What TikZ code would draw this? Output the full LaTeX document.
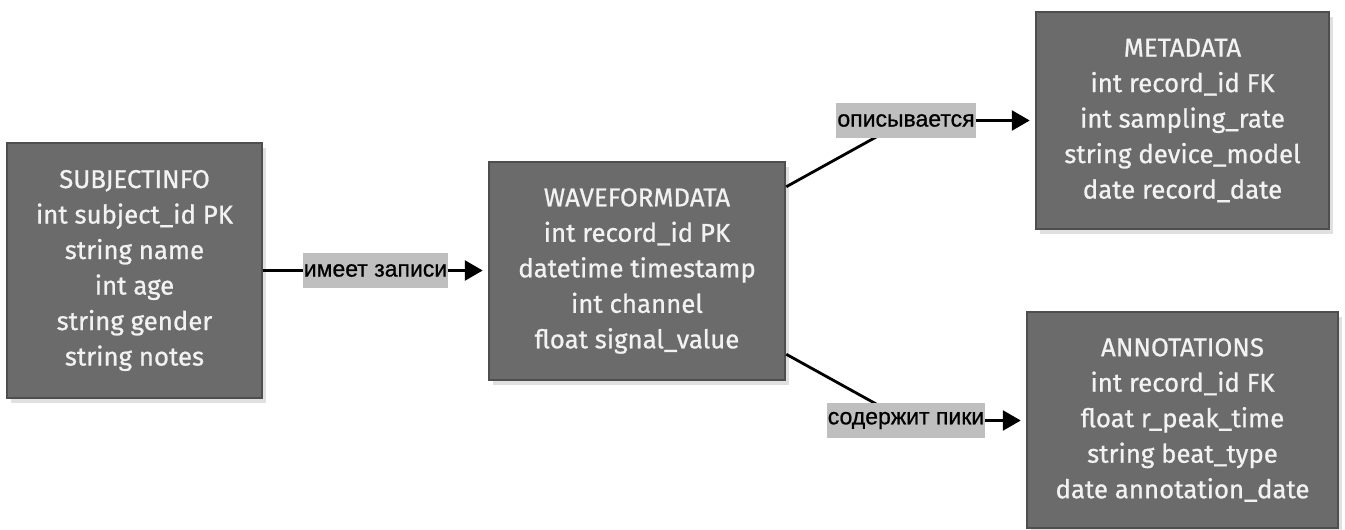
\documentclass[tikz,border=0pt]{standalone}
\usepackage{fontspec}
\setmainfont{Fira Sans}[FakeBold=0.8]
\newfontfamily\labelfont{Liberation Sans}[FakeBold=0.8]
\usetikzlibrary{arrows.meta,shadows,calc}
\definecolor{boxfill}{HTML}{6B6B6B}
\definecolor{boxline}{HTML}{4E4E4E}
\definecolor{boxtext}{HTML}{F2F2F2}
\definecolor{labfill}{HTML}{BFBFBF}
\definecolor{shade}{HTML}{E0E0E0}
\tikzset{
  entity/.style={draw=boxline, line width=2.5pt, fill=boxfill, text=boxtext,
    align=center, inner sep=0pt,
    font=\fontsize{25.8}{35.5}\selectfont,
    drop shadow={shadow xshift=4pt, shadow yshift=-5pt, fill=shade, opacity=1}},
  link/.style={line width=2.8pt, black, line join=miter,
    -{Triangle[length=18pt,width=20pt]}, shorten >=5pt},
  rel/.style={fill=labfill, text=black, inner xsep=1pt, inner ysep=0pt,
    minimum height=35pt, font=\labelfont\fontsize{23}{27}\selectfont}
}
\begin{document}
\begin{tikzpicture}[x=1pt,y=-1pt]
\useasboundingbox (0,0) rectangle (1345,530);

% entity tables
\node[entity, minimum width=255pt, minimum height=255pt] (si) at (134.5,270.5)
  {SUBJECTINFO\\int subject\_id PK\\string name\\int age\\string gender\\string notes};
\node[entity, minimum width=296pt, minimum height=218pt] (wf) at (637,271)
  {WAVEFORMDATA\\int record\_id PK\\datetime timestamp\\int channel\\float signal\_value};
\node[entity, minimum width=293pt, minimum height=217pt] (md) at (1182.5,120.5)
  {METADATA\\int record\_id FK\\int sampling\_rate\\string device\_model\\date record\_date};
\node[entity, minimum width=311pt, minimum height=216pt] (an) at (1182.5,420)
  {ANNOTATIONS\\int record\_id FK\\float r\_peak\_time\\string beat\_type\\date annotation\_date};

% bend points of the relations
\coordinate (c1) at (906,120.5);
\coordinate (c2) at (906,420.5);

% relations
\draw[link] (si.east) -- (si.east -| wf.west);
\node[rel] (l1) at ($(si.east)!0.5!(si.east -| wf.west)$) {имеет записи};

\draw[link] ([yshift=-26pt]wf.north east) -- (c1) -- (c1 -| md.west);
\node[rel] (l2) at (c1) {описывается};

\draw[link] ([yshift=27pt]wf.south east) -- (c2) -- (c2 -| an.west);
\node[rel] (l3) at (c2) {содержит пики};
\end{tikzpicture}
\end{document}
